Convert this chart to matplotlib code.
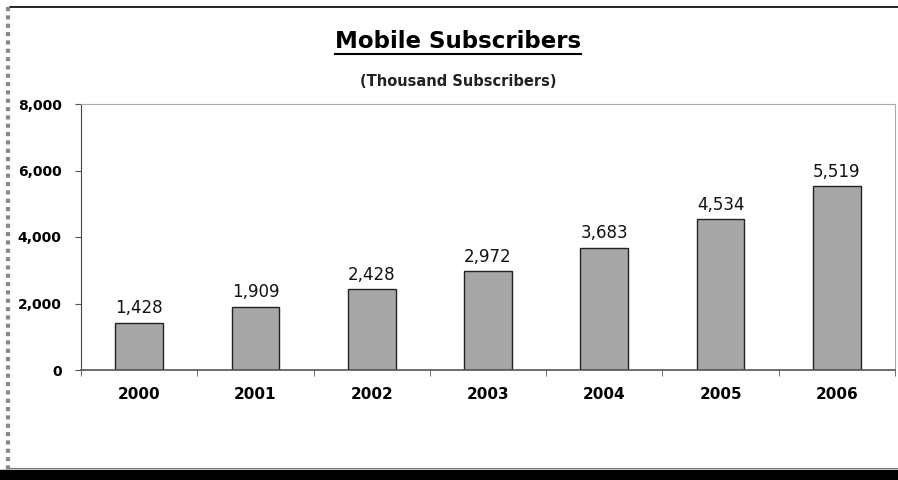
import matplotlib
matplotlib.use("Agg")
import matplotlib.pyplot as plt
from matplotlib.lines import Line2D
from matplotlib.patches import Rectangle
import numpy as np

years = ['2000', '2001', '2002', '2003', '2004', '2005', '2006']
subscribers = [1428, 1909, 2428, 2972, 3683, 4534, 5519]
yticks = [0, 2000, 4000, 6000, 8000]

plt.rcParams['font.family'] = 'DejaVu Sans'

fig = plt.figure(figsize=(8.98, 4.8), dpi=100)
ax = fig.add_axes([81/898, 1-370/480, (895-81)/898, (370-104)/480])

x = np.arange(len(years))
ax.bar(x, subscribers, width=0.41, color='#a6a6a6', edgecolor='#222222', linewidth=1.0)

for xi, v in zip(x, subscribers):
    ax.annotate('{:,}'.format(v), (xi, v), xytext=(0, 4), textcoords='offset points',
                ha='center', va='bottom', fontsize=12, color='#111111')

ax.set_xlim(-0.5, len(years)-0.5)
ax.set_ylim(0, 8000)
ax.set_yticks(yticks)
ax.set_yticklabels(['{:,}'.format(t) for t in yticks], fontsize=10, fontweight='bold')
ax.set_xticks(x)
ax.set_xticklabels(years, fontsize=11, fontweight='bold')
ax.tick_params(axis='x', which='major', length=0, pad=12)
ax.set_xticks(np.arange(-0.5, len(years)), minor=True)
ax.tick_params(axis='x', which='minor', length=4, direction='out', color='#555555')
ax.tick_params(axis='y', length=4, direction='out', color='#555555', pad=10)

ax.spines['left'].set_color('#444444')
ax.spines['bottom'].set_color('#555555')
ax.spines['bottom'].set_linewidth(1.2)
for s in ('top', 'right'):
    ax.spines[s].set_color('#aaaaaa')
    ax.spines[s].set_linestyle((0, (1, 1)))
    ax.spines[s].set_linewidth(0.8)

# title and subtitle
title = fig.text(458/898, 1-41/480, 'Mobile Subscribers', ha='center', va='center',
                 fontsize=16.5, fontweight='heavy')
fig.text(458/898, 1-82/480, '(Thousand Subscribers)', ha='center', va='center',
         fontsize=10.5, fontweight='bold', color='#222222')

# underline the title to its own width
fig.canvas.draw()
bb = title.get_window_extent().transformed(fig.transFigure.inverted())
fig.add_artist(Line2D([bb.x0, bb.x1], [bb.y0 - 0.004, bb.y0 - 0.004], color='black', lw=1.5))

# outer frame of the scanned page
fig.add_artist(Line2D([10/898, 1], [1-7/480, 1-7/480], color='black', lw=1.2))
fig.add_artist(Line2D([8/898, 8/898], [1-7/480, 1-470/480], color='#888888', lw=3, ls=(0, (1, 1))))
fig.add_artist(Line2D([10/898, 1], [1-468/480, 1-468/480], color='#777777', lw=0.8))
fig.add_artist(Rectangle((0, 0), 1, 10/480, transform=fig.transFigure, color='black'))

fig.savefig('out.png', dpi=100)
